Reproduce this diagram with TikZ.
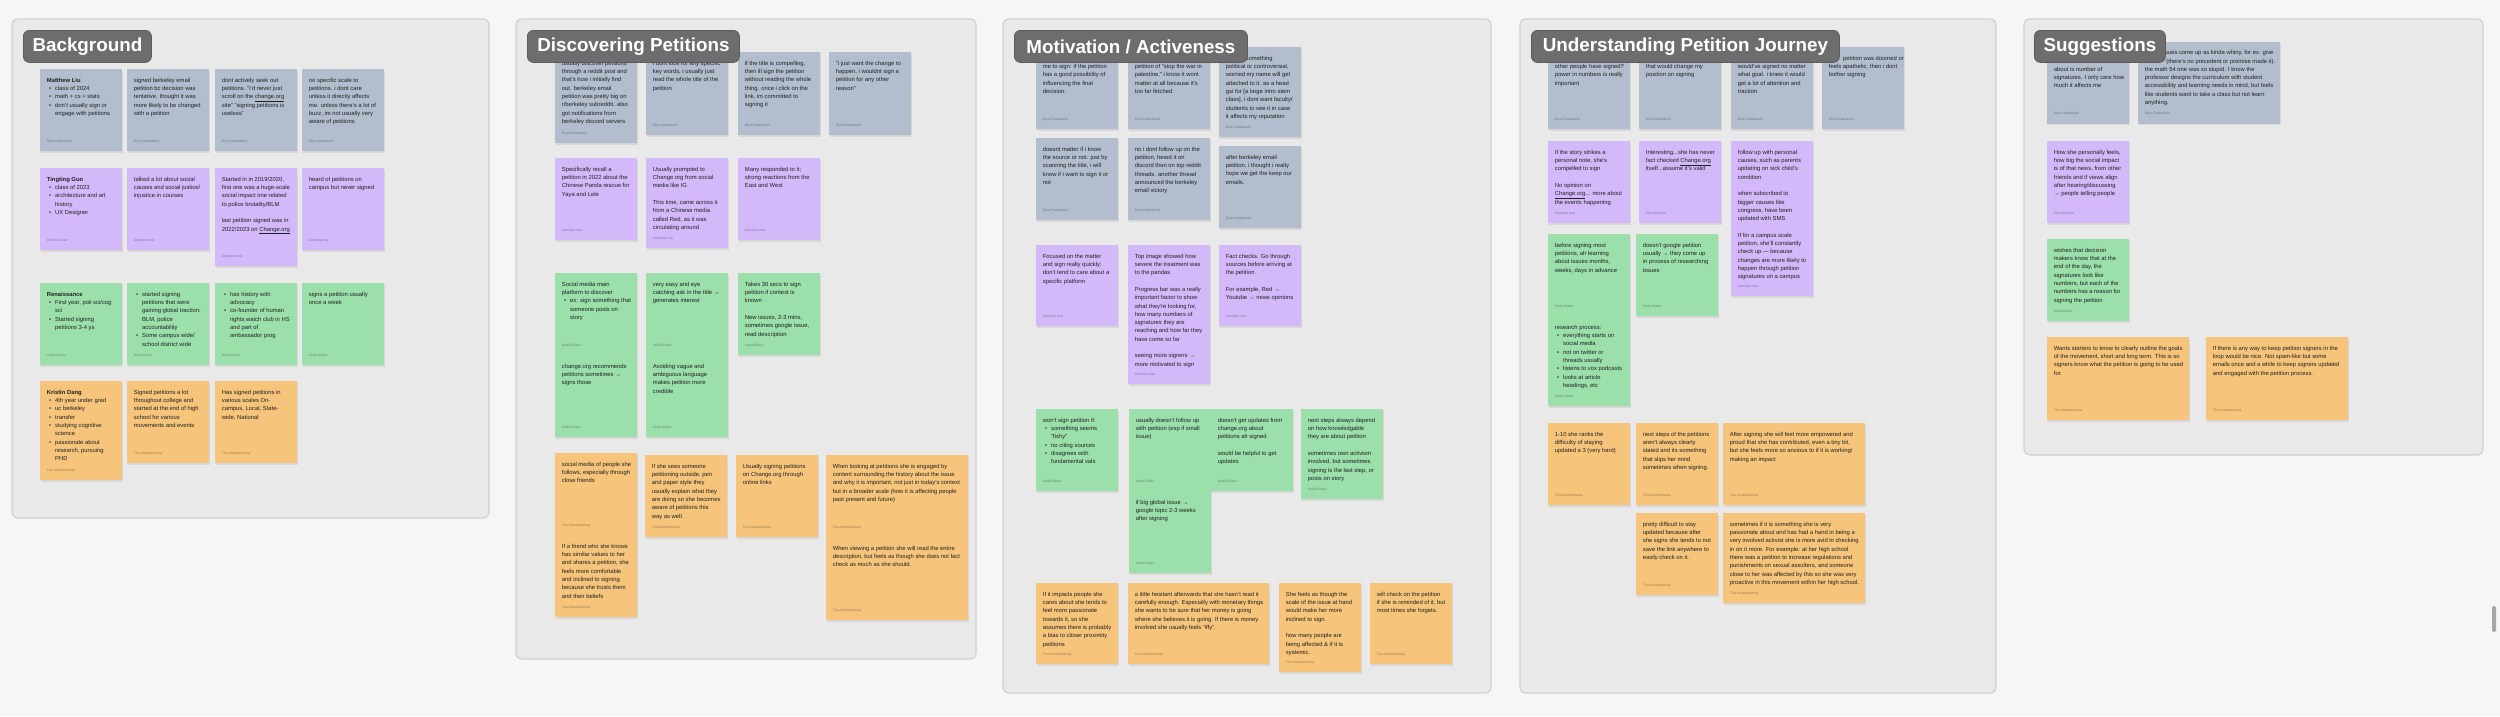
\documentclass[tikz,border=0pt]{standalone}
\usepackage{fontspec}
\setmainfont{Liberation Sans}
\definecolor{cgray}{HTML}{B2BECD}
\definecolor{cpurple}{HTML}{D3B9FA}
\definecolor{cgreen}{HTML}{9BDFAA}
\definecolor{corange}{HTML}{F6C57B}
\definecolor{panelbg}{HTML}{E9E9E9}
\definecolor{panelline}{HTML}{D0D0D0}
\definecolor{pagebg}{HTML}{F6F6F6}
\definecolor{titlebg}{HTML}{6D6D6D}
\definecolor{titleline}{HTML}{5C5C5C}
\newcommand\myb{\makebox[8.3pt][l]{\hspace{2.2pt}\textbullet}}
\newcommand\myi{\hspace*{8.3pt}}
\newcommand\auG{Diya Chakraborti}
\newcommand\auP{Christina Kan}
\newcommand\auE{Anika Edara}
\newcommand\auO{Tina Khamphivong}
% #1 name, #2 x, #3 y, #4 w, #5 h, #6 colour, #7 text, #8 author
\newcommand\mycard[8]{%
  \fill[black,opacity=0.08] (#2+0.6,#3+1.6) rectangle ++(#4,#5);
  \node[cardbox, fill=#6, minimum width=#4, minimum height=#5] (#1) at (#2,#3) {};
  \node[cardtext] (#1t) at ([xshift=6.7pt,yshift=-7.5pt]#1.north west) {\rule{0pt}{5.5pt}#7};
  \node[authortext, text=#6!62!black] (#1a) at ([xshift=6.7pt,yshift=9pt]#1.south west) {#8};
}
\begin{document}
\begin{tikzpicture}[x=1pt,y=-1pt,
  cardbox/.style={draw=none, inner sep=0pt, outer sep=0pt, anchor=north west},
  cardtext/.style={inner sep=0pt, align=left, anchor=north west, text=black!87, font=\fontsize{5.85}{8.3}\selectfont},
  authortext/.style={inner sep=0pt, anchor=base west, font=\fontsize{3.4}{4}\selectfont},
  panel/.style={fill=panelbg, draw=panelline, line width=1.2pt, rounded corners=6pt},
  titlebox/.style={fill=titlebg, draw=titleline, line width=0.8pt, rounded corners=6pt, text=white, font=\fontsize{18.8}{22}\selectfont\bfseries, inner sep=0pt, anchor=north west, minimum height=32}]
\useasboundingbox (0,0) rectangle (2500,716);
\fill[pagebg] (0,0) rectangle (2500,716);
% panels
\draw[panel] (12,19) rectangle (489,518);
\draw[panel] (516,19) rectangle (976,659);
\draw[panel] (1003,19) rectangle (1491,693);
\draw[panel] (1520,19) rectangle (1996,693);
\draw[panel] (2024,19) rectangle (2483,455);
% scrollbar
\fill[gray!70, rounded corners=1.5pt] (2492,606) rectangle (2496,632);

% ===== Background =====
\mycard{B1}{40}{69}{82}{82}{cgray}{\textbf{Matthew Liu}\\ \myb class of 2024\\ \myb math + cs + stats\\ \myb don't usually sign or\\ \myi engage with petitions}{\auG}
\mycard{B2}{127}{69}{82}{82}{cgray}{signed berkeley email\\ petition bc decision was\\ tentative. thought it was\\ more likely to be changed\\ with a petition}{\auG}
\mycard{B3}{215}{69}{82}{82}{cgray}{dont actively seek out\\ petitions. "i'd never just\\ scroll on the \underline{change.org}\\ site" "signing petitions is\\ useless"}{\auG}
\mycard{B4}{302}{69}{82}{82}{cgray}{no specific scale to\\ petitions. i dont care\\ unless it directly affects\\ me. unless there's a lot of\\ buzz, im not usually very\\ aware of petitions}{\auG}
\mycard{B5}{40}{168}{82}{82}{cpurple}{\textbf{Tingting Guo}\\ \myb class of 2023\\ \myb architecture and art\\ \myi history\\ \myb UX Designer}{\auP}
\mycard{B6}{127}{168}{82}{82}{cpurple}{talked a lot about social\\ causes and social justice/\\ injustice in courses}{\auP}
\mycard{B7}{215}{168}{82}{98}{cpurple}{Started in in 2019/2020,\\ first one was a huge-scale\\ social impact one related\\ to police brutality/BLM\\[8.3pt] last petition signed was in\\ 2022/2023 on \underline{Change.org}}{\auP}
\mycard{B8}{302}{168}{82}{82}{cpurple}{heard of petitions on\\ campus but never signed}{\auP}
\mycard{B9}{40}{283}{82}{82}{cgreen}{\textbf{Renaissance}\\ \myb First year, poli sci/cog\\ \myi sci\\ \myb Started signing\\ \myi petitions 3-4 ys}{\auE}
\mycard{B10}{127}{283}{82}{82}{cgreen}{\myb started signing\\ \myi petitions that were\\ \myi gaining global traction:\\ \myi BLM, police\\ \myi accountability\\ \myb Some campus wide/\\ \myi school district wide}{\auE}
\mycard{B11}{215}{283}{82}{82}{cgreen}{\myb has history with\\ \myi advocacy\\ \myb co-founder of human\\ \myi rights watch club in HS\\ \myi and part of\\ \myi ambassador prog}{\auE}
\mycard{B12}{302}{283}{82}{82}{cgreen}{signs a petition usually\\ once a week}{\auE}
\mycard{B13}{40}{381}{82}{99}{corange}{\textbf{Kristin Dang}\\ \myb 4th year under grad\\ \myb uc berkeley\\ \myb transfer\\ \myb studying cognitive\\ \myi science\\ \myb passionate about\\ \myi research, pursuing\\ \myi PHD}{\auO}
\mycard{B14}{127}{381}{82}{82}{corange}{Signed petitions a lot\\ throughout college and\\ started at the end of high\\ school for various\\ movements and events}{\auO}
\mycard{B15}{215}{381}{82}{82}{corange}{Has signed petitions in\\ various scales On-\\ campus, Local, State-\\ wide, National}{\auO}

% ===== Discovering Petitions =====
\mycard{D1}{555}{52}{82}{91}{cgray}{usually discover petitions\\ through a reddit post and\\ that's how i initially find\\ out. berkeley email\\ petition was pretty big on\\ r/berkeley subreddit. also\\ got notifications from\\ berkeley discord servers}{\auG}
\mycard{D2}{646}{52}{82}{83}{cgray}{i dont look for any specific\\ key words, i usually just\\ read the whole title of the\\ petition}{\auG}
\mycard{D3}{738}{52}{82}{83}{cgray}{if the title is compelling,\\ then ill sign the petition\\ without reading the whole\\ thing. once i click on the\\ link, im committed to\\ signing it}{\auG}
\mycard{D4}{829}{52}{82}{83}{cgray}{"i just want the change to\\ happen, i wouldnt sign a\\ petition for any other\\ reason"}{\auG}
\mycard{D5}{555}{158}{82}{82}{cpurple}{Specifically recall a\\ petition in 2022 about the\\ Chinese Panda rescue for\\ Yaya and Lele}{\auP}
\mycard{D6}{646}{158}{82}{90}{cpurple}{Usually prompted to\\ Change.org from social\\ media like IG\\[8.3pt] This time, came across it\\ from a Chinese media\\ called Red, as it was\\ circulating around}{\auP}
\mycard{D7}{738}{158}{82}{82}{cpurple}{Many responded to it;\\ strong reactions from the\\ East and West}{\auP}
\mycard{D8a}{555}{273}{82}{82}{cgreen}{Social media main\\ platform to discover\\ \myb ex: sign something that\\ \myi someone posts on\\ \myi story}{\auE}
\mycard{D8b}{555}{355}{82}{82}{cgreen}{change.org recommends\\ petitions sometimes →\\ signs those}{\auE}
\mycard{D9a}{646}{273}{82}{82}{cgreen}{very easy and eye\\ catching ask in the title →\\ generates interest}{\auE}
\mycard{D9b}{646}{355}{82}{82}{cgreen}{Avoiding vague and\\ ambiguous language\\ makes petition more\\ credible}{\auE}
\mycard{D10}{738}{273}{82}{82}{cgreen}{Takes 30 secs to sign\\ petition if context is\\ known\\[8.3pt] New issues, 2-3 mins,\\ sometimes google issue,\\ read description}{\auE}
\mycard{D11a}{555}{453}{82}{82}{corange}{social media of people she\\ follows, especially through\\ close friends}{\auO}
\mycard{D11b}{555}{535}{82}{82}{corange}{If a friend who she knows\\ has similar values to her\\ and shares a petition, she\\ feels more comfortable\\ and inclined to signing\\ because she trusts them\\ and their beliefs}{\auO}
\mycard{D12}{645}{455}{82}{82}{corange}{If she sees someone\\ petitioning outside, pen\\ and paper style they\\ usually explain what they\\ are doing so she becomes\\ aware of petitions this\\ way as well.}{\auO}
\mycard{D13}{736}{455}{82}{82}{corange}{Usually signing petitions\\ on Change.org through\\ online links}{\auO}
\mycard{D14a}{826}{455}{142}{82}{corange}{When looking at petitions she is engaged by\\ content surrounding the history about the issue\\ and why it is important, not just in today's context\\ but in a broader scale (how it is affecting people\\ past present and future)}{\auO}
\mycard{D14b}{826}{537}{142}{83}{corange}{When viewing a petition she will read the entire\\ description, but feels as though she does not fact\\ check as much as she should.}{\auO}

% ===== Motivation / Activeness =====
\mycard{M1}{1036}{47}{82}{82}{cgray}{\phantom{what would motivate}\\ me to sign: if the petition\\ has a good possibility of\\ influencing the final\\ decision.}{\auG}
\mycard{M2}{1128}{47}{82}{82}{cgray}{\phantom{if i see a}\\ petition of "stop the war in\\ palestine," i know it wont\\ matter at all because it's\\ too far fetched.}{\auG}
\mycard{M3}{1219}{47}{82}{90}{cgray}{\phantom{if i sign }something\\ political or controversial,\\ worried my name will get\\ attached to it. as a head\\ gsi for [a large intro stem\\ class], i dont want faculty/\\ students to see it in case\\ it affects my reputation}{\auG}
\mycard{M4}{1036}{138}{82}{82}{cgray}{doesnt matter if i know\\ the source or not. just by\\ scanning the title, i will\\ know if i want to sign it or\\ not}{\auG}
\mycard{M5}{1128}{138}{82}{82}{cgray}{no i dont follow up on the\\ petition, heard it on\\ discord then on top reddit\\ threads. another thread\\ announced the berkeley\\ email victory}{\auG}
\mycard{M6}{1219}{146}{82}{82}{cgray}{after berkeley email\\ petition, i thought i really\\ hope we get the keep our\\ emails.}{\auG}
\mycard{M7}{1036}{245}{82}{81}{cpurple}{Focused on the matter\\ and sign really quickly;\\ don't tend to care about a\\ specific platform}{\auP}
\mycard{M8}{1128}{245}{82}{139}{cpurple}{Top image showed how\\ severe the treatment was\\ to the pandas\\[8.3pt] Progress bar was a really\\ important factor to show\\ what they're looking for,\\ how many numbers of\\ signatures they are\\ reaching and how far they\\ have come so far\\[8.3pt] seeing more signers →\\ more motivated to sign}{\auP}
\mycard{M9}{1219}{245}{82}{81}{cpurple}{Fact checks. Go through\\ sources before arriving at\\ the petition\\[8.3pt] For example, Red →\\ Youtube → news opinions}{\auP}
\mycard{M10}{1036}{409}{82}{82}{cgreen}{won't sign petition if:\\ \myb something seems\\ \myi "fishy"\\ \myb no citing sources\\ \myb disagrees with\\ \myi fundamental vals}{\auE}
\mycard{M11a}{1129}{409}{82}{82}{cgreen}{usually doesn't follow up\\ with petition (esp if small\\ issue)}{\auE}
\mycard{M11b}{1129}{491}{82}{82}{cgreen}{if big global issue →\\ google topic 2-3 weeks\\ after signing}{\auE}
\mycard{M12}{1211}{409}{82}{82}{cgreen}{doesn't get updates from\\ change.org about\\ petitions alr signed\\[8.3pt] would be helpful to get\\ updates}{\auE}
\mycard{M13}{1301}{409}{82}{90}{cgreen}{next steps always depend\\ on how knowledgable\\ they are about petition\\[8.3pt] sometimes own activism\\ involved, but sometimes\\ signing is the last step, or\\ posts on story}{\auE}
\mycard{M14}{1036}{583}{82}{81}{corange}{If it impacts people she\\ cares about she tends to\\ feel more passionate\\ towards it, so she\\ assumes there is probably\\ a bias to closer proximity\\ petitions}{\auO}
\mycard{M15}{1128}{583}{141}{81}{corange}{a little hesitant afterwards that she hasn't read it\\ carefully enough. Especially with monetary things\\ she wants to be sure that her money is going\\ where she believes it is going. If there is money\\ involved she usually feels "iffy".}{\auO}
\mycard{M16}{1279}{583}{82}{89}{corange}{She feels as though the\\ scale of the issue at hand\\ would make her more\\ inclined to sign.\\[8.3pt] how many people are\\ being affected \& if it is\\ systemic.}{\auO}
\mycard{M17}{1370}{583}{82}{81}{corange}{will check on the petition\\ if she is reminded of it, but\\ most times she forgets.}{\auO}

% ===== Understanding Petition Journey =====
\mycard{U1}{1548}{47}{82}{82}{cgray}{\phantom{does it matter how many}\\ other people have signed?\\ power in numbers is really\\ important}{\auG}
\mycard{U2}{1639}{47}{82}{82}{cgray}{\phantom{i dont think theres anything}\\ that would change my\\ position on signing}{\auG}
\mycard{U3}{1731}{47}{82}{82}{cgray}{\phantom{the berkeley email one i}\\ would've signed no matter\\ what goal. i knew it would\\ get a lot of attention and\\ traction}{\auG}
\mycard{U4}{1822}{47}{82}{82}{cgray}{\phantom{if the }petition was doomed or\\ feels apathetic, then i dont\\ bother signing}{\auG}
\mycard{U5}{1548}{141}{82}{82}{cpurple}{If the story strikes a\\ personal note, she's\\ compelled to sign\\[8.3pt] No opinion on\\ \underline{Change.org}... more about\\ the events happening}{\auP}
\mycard{U6}{1639}{141}{82}{82}{cpurple}{Interesting...she has never\\ fact checked \underline{Change.org}\\ itself...assume it's valid}{\auP}
\mycard{U7}{1731}{141}{82}{155}{cpurple}{follow up with personal\\ causes, such as parents\\ updating on sick child's\\ condition\\[8.3pt] when subscribed to\\ bigger causes like\\ congress, have been\\ updated with SMS\\[8.3pt] If for a campus scale\\ petition, she'll constantly\\ check up — because\\ changes are more likely to\\ happen through petition\\ signatures on a campus}{\auP}
\mycard{U8a}{1548}{234}{82}{82}{cgreen}{before signing most\\ petitions, alr learning\\ about issues months,\\ weeks, days in advance}{\auE}
\mycard{U8b}{1548}{316}{82}{90}{cgreen}{research process:\\ \myb everything starts on\\ \myi social media\\ \myb not on twitter or\\ \myi threads usually\\ \myb listens to vox podcasts\\ \myb looks at article\\ \myi headings, etc}{\auE}
\mycard{U9}{1636}{234}{82}{82}{cgreen}{doesn't google petition\\ usually → they come up\\ in process of researching\\ issues}{\auE}
\mycard{U10}{1548}{423}{82}{82}{corange}{1-10 she ranks the\\ difficulty of staying\\ updated a 3 (very hard)}{\auO}
\mycard{U11}{1636}{423}{82}{82}{corange}{next steps of the petitions\\ aren't always clearly\\ stated and its something\\ that slips her mind\\ sometimes when signing.}{\auO}
\mycard{U12}{1723}{423}{142}{82}{corange}{After signing she will feel more empowered and\\ proud that she has contributed, even a tiny bit,\\ but she feels more so anxious to if it is working/\\ making an impact}{\auO}
\mycard{U13}{1636}{513}{82}{82}{corange}{pretty difficult to stay\\ updated because after\\ she signs she tends to not\\ save the link anywhere to\\ easily check on it.}{\auO}
\mycard{U14}{1723}{513}{142}{90}{corange}{sometimes if it is something she is very\\ passionate about and has had a hand in being a\\ very involved activist she is more avid in checking\\ in on it more. For example: at her high school\\ there was a petition to increase regulations and\\ punishments on sexual assulters, and someone\\ close to her was affected by this so she was very\\ proactive in this movement within her high school.}{\auO}

% ===== Suggestions =====
\mycard{S1}{2047}{41.5}{82}{82}{cgray}{\phantom{i dont think the main}\\ \phantom{thing people should care}\\ about is number of\\ signatures. I only care how\\ much it affects me}{\auG}
\mycard{S2}{2138}{41.5}{142}{82}{cgray}{\phantom{some is}sues come up as kinda whiny, for ex. give\\ \phantom{us an A }(there's no precedent or promise made it).\\ the math 54 one was so stupid. I know the\\ professor designs the curriculum with student\\ accessibility and learning needs in mind, but feels\\ like students want to take a class but not learn\\ anything.}{\auG}
\mycard{S3}{2047}{141}{82}{82}{cpurple}{How she personally feels,\\ how big the social impact\\ is of that news, from other\\ friends and if views align\\ after hearing/discussing\\ → people telling people}{\auP}
\mycard{S4}{2047}{239}{82}{82}{cgreen}{wishes that decision\\ makers know that at the\\ end of the day, the\\ signatures look like\\ numbers, but each of the\\ numbers has a reason for\\ signing the petition}{\auE}
\mycard{S5}{2047}{337}{142}{83}{corange}{Wants starters to know to clearly outline the goals\\ of the movement, short and long term. This is so\\ signers know what the petition is going to be used\\ for.}{\auO}
\mycard{S6}{2206}{337}{142}{83}{corange}{If there is any way to keep petition signers in the\\ loop would be nice. Not spam-like but some\\ emails once and a while to keep signers updated\\ and engaged with the petition process.}{\auO}

% ===== titles =====
\node[titlebox, minimum width=128] (tB) at (23,30) {Background};
\node[titlebox, minimum width=212] (tD) at (527,30) {Discovering Petitions};
\node[titlebox, minimum width=233] (tM) at (1014,30) {Motivation / Activeness};
\node[titlebox, minimum width=308] (tU) at (1531,30) {Understanding Petition Journey};
\node[titlebox, minimum width=131] (tS) at (2034,30) {Suggestions};
\end{tikzpicture}
\end{document}
